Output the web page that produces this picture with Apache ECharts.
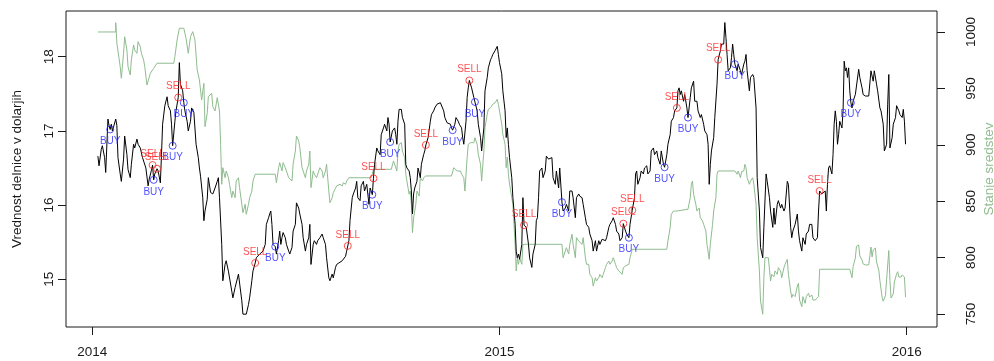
<!DOCTYPE html>
<html>
<head>
<meta charset="utf-8">
<script src="https://cdn.jsdelivr.net/npm/echarts@6/dist/echarts.min.js"></script>
<style>
  html, body { margin: 0; padding: 0; background: #fff; }
  #chart { width: 994px; height: 361px; }
</style>
</head>
<body>
<div id="chart"></div>
<script>
// Day numbers count calendar days from 1 January 2014.
const yearTicks = [0, 365, 730];
const yearLabels = ['2014', '2015', '2016'];
const priceTicks = [15, 16, 17, 18];
const fundTicks = [750, 800, 850, 900, 950, 1000];

// Share price in dollars: [day, price]
const pricePoints = [
  [5,16.66],[6,16.53],[8,16.75],[9,16.80],[11,16.64],[12,16.44],[14,17.16],[15,17.07],[16,17.02],[17,17.09],[18,17.00],[21,17.16],[22,17.07],[23,16.64],[25,16.42],[26,16.32],[28,16.62],[29,16.93],[31,16.68],[32,16.48],[34,16.37],[35,16.55],[37,16.82],[38,16.77],[40,16.89],[41,16.82],[43,16.77],[45,16.64],[48,16.50],[50,16.26],[51,16.35],[53,16.47],[54,16.54],[55,16.34],[56,16.42],[58,16.49],[59,16.46],[61,16.30],[62,16.68],[63,17.09],[65,17.34],[66,17.36],[67,17.46],[68,17.34],[70,17.27],[71,17.09],[72,16.80],[74,17.13],[75,17.27],[77,17.45],[78,17.92],[79,17.63],[81,17.54],[82,17.38],[83,17.27],[85,17.13],[86,17.00],[88,17.13],[89,17.31],[91,17.25],[93,16.82],[95,16.64],[96,16.50],[97,16.39],[99,16.10],[100,15.79],[101,15.92],[103,16.08],[104,16.37],[106,16.17],[108,16.15],[110,16.23],[112,16.32],[113,16.37],[114,16.10],[116,15.47],[117,14.98],[119,15.20],[120,15.25],[122,15.11],[125,14.84],[126,14.75],[128,14.89],[131,15.07],[134,14.71],[135,14.53],[138,14.53],[140,14.66],[141,14.75],[143,14.98],[144,15.11],[146,15.22],[147,15.29],[150,15.34],[153,15.38],[155,15.47],[156,15.74],[158,15.83],[159,15.88],[160,15.92],[161,15.74],[162,15.47],[164,15.44],[165,15.34],[167,15.52],[168,15.65],[169,15.47],[170,15.56],[171,15.63],[173,15.56],[174,15.47],[176,15.38],[177,15.34],[179,15.43],[180,15.65],[182,15.74],[183,16.03],[185,15.96],[186,15.88],[188,15.74],[189,15.56],[191,15.38],[192,15.47],[194,15.56],[195,15.74],[196,15.20],[198,15.47],[199,15.52],[201,15.47],[202,15.52],[204,15.56],[206,15.61],[207,15.56],[209,15.47],[210,15.29],[212,15.02],[213,14.98],[215,15.07],[216,15.02],[218,15.16],[219,15.20],[221,15.22],[224,15.25],[227,15.31],[228,15.38],[229,15.45],[230,15.52],[231,15.79],[233,16.10],[234,16.15],[236,16.23],[237,16.32],[238,16.10],[240,16.06],[241,16.26],[243,16.32],[244,16.19],[246,16.28],[248,16.01],[249,16.23],[250,16.19],[251,16.14],[252,16.36],[253,16.55],[255,16.77],[256,16.73],[258,16.68],[259,16.95],[261,17.04],[262,17.09],[264,17.00],[265,17.18],[266,17.09],[267,16.85],[269,17.00],[271,17.04],[272,16.95],[273,16.82],[274,17.13],[275,17.29],[277,17.29],[278,17.18],[280,17.09],[281,16.55],[282,16.50],[284,16.46],[285,16.37],[286,16.19],[287,15.88],[288,16.15],[289,16.23],[291,16.32],[292,16.50],[294,16.37],[295,16.55],[297,16.68],[298,16.73],[299,16.81],[301,16.91],[303,17.13],[304,17.22],[306,17.27],[307,17.31],[309,17.36],[310,17.38],[312,17.38],[313,17.36],[315,17.27],[316,17.18],[318,17.11],[319,17.13],[321,17.09],[322,17.04],[323,17.01],[325,17.09],[326,17.18],[328,17.13],[329,17.09],[331,17.04],[332,16.91],[333,16.82],[335,17.13],[336,17.45],[337,17.58],[338,17.68],[340,17.58],[342,17.45],[343,17.39],[345,17.27],[346,17.09],[348,16.91],[349,16.73],[351,17.04],[352,17.54],[354,17.72],[355,17.85],[357,17.96],[358,17.99],[359,18.03],[361,18.08],[363,18.14],[364,18.03],[365,17.92],[367,17.77],[368,17.54],[370,17.27],[371,16.91],[372,17.04],[373,16.82],[374,16.64],[376,16.37],[377,16.10],[379,15.74],[380,15.38],[381,15.29],[382,15.34],[383,15.27],[385,15.47],[386,16.10],[387,15.73],[389,15.70],[391,15.47],[392,15.29],[394,15.16],[395,15.34],[397,15.47],[398,15.79],[399,15.83],[400,16.10],[401,16.46],[403,16.50],[404,16.37],[406,16.46],[407,16.66],[409,16.62],[410,16.64],[412,16.64],[413,16.37],[415,16.28],[416,16.46],[418,16.23],[419,16.50],[421,16.04],[422,15.92],[424,15.96],[425,16.01],[427,15.92],[428,16.19],[430,16.19],[431,16.10],[433,15.83],[434,16.10],[436,16.15],[437,16.12],[439,16.10],[440,16.01],[442,15.83],[443,15.74],[445,15.70],[446,15.61],[448,15.52],[449,15.38],[451,15.52],[452,15.38],[454,15.52],[455,15.47],[457,15.54],[458,15.52],[460,15.52],[461,15.56],[463,15.70],[464,15.74],[466,15.79],[467,15.83],[469,15.74],[470,15.65],[472,15.61],[473,15.52],[475,15.56],[476,15.75],[478,15.65],[479,15.61],[481,15.56],[482,15.74],[484,15.93],[486,16.10],[487,16.42],[488,16.46],[489,16.28],[491,16.37],[492,16.46],[494,16.42],[495,16.50],[497,16.53],[498,16.42],[500,16.46],[501,16.73],[503,16.77],[504,16.68],[506,16.73],[507,16.64],[509,16.55],[510,16.73],[512,16.55],[513,16.51],[515,16.68],[516,16.82],[518,16.95],[519,17.13],[521,17.18],[522,17.27],[524,17.31],[525,17.54],[526,17.58],[527,17.49],[528,17.54],[530,17.40],[531,17.49],[533,17.31],[534,17.18],[536,17.45],[537,17.58],[539,17.67],[540,17.40],[542,17.40],[543,17.27],[545,17.18],[546,17.22],[548,17.09],[549,17.00],[551,16.95],[552,16.82],[553,16.28],[554,16.55],[555,16.73],[557,16.91],[558,17.18],[560,17.63],[561,17.96],[563,18.08],[564,18.17],[566,18.17],[567,18.46],[568,18.26],[569,18.03],[570,17.81],[572,17.85],[573,17.99],[574,18.17],[575,18.03],[576,17.90],[578,17.81],[579,17.90],[581,17.81],[582,17.76],[584,17.90],[585,17.94],[586,18.03],[587,17.81],[589,17.54],[590,17.72],[592,17.76],[593,17.72],[595,17.31],[596,16.37],[598,15.92],[599,15.43],[601,15.29],[602,15.70],[604,16.42],[605,16.32],[607,16.10],[608,15.92],[610,15.70],[611,15.96],[612,15.74],[614,16.01],[615,16.06],[617,15.96],[618,16.01],[620,15.92],[621,15.96],[623,16.32],[624,16.28],[626,15.70],[627,15.56],[628,15.65],[630,15.74],[632,15.88],[633,15.65],[634,15.52],[636,15.38],[637,15.56],[639,15.47],[640,15.61],[642,15.65],[643,15.74],[645,15.74],[646,15.56],[648,15.52],[649,15.52],[650,15.56],[651,15.92],[652,16.19],[654,16.15],[655,16.15],[657,16.19],[658,15.92],[659,16.28],[660,16.50],[661,16.53],[663,16.42],[664,16.68],[665,17.09],[666,17.27],[667,17.13],[668,16.82],[669,16.95],[670,17.13],[672,17.04],[673,17.27],[674,17.94],[675,17.81],[676,17.85],[677,17.72],[678,17.85],[679,17.54],[680,17.38],[681,17.31],[682,17.40],[684,17.49],[685,17.49],[687,17.83],[688,17.72],[690,17.58],[691,17.49],[693,17.47],[694,17.45],[696,17.47],[697,17.45],[698,17.81],[700,17.67],[701,17.81],[703,17.63],[704,17.54],[706,17.31],[707,17.27],[709,17.09],[710,16.73],[711,16.77],[712,16.82],[713,17.36],[714,17.76],[715,16.77],[717,16.91],[718,17.09],[720,17.18],[721,17.34],[723,17.27],[724,17.22],[726,17.18],[727,17.29],[728,17.13],[729,16.82]
];

// Value of the holdings: [day, value]
const fundPoints = [
  [5,1000],[21,1000],[21,1008.2],[22,990.0],[25,969.2],[26,959.0],[28,981.1],[29,995.8],[31,984.0],[32,969.2],[34,961.9],[35,975.2],[37,988.5],[38,984.0],[40,981.1],[41,991.4],[43,987.0],[44,981.1],[46,975.2],[47,969.2],[49,953.0],[52,963.4],[55,967.8],[58,972.3],[73,972.3],[74,978.1],[76,992.9],[78,1003.3],[82,1003.3],[84,994.4],[86,981.1],[88,995.8],[90,1000.3],[92,992.9],[94,966.3],[96,957.5],[98,939.7],[100,954.5],[101,916.1],[103,927.9],[104,942.6],[107,945.7],[108,933.8],[110,930.0],[112,941.8],[113,943.3],[114,930.0],[115,900.4],[116,865.0],[117,879.7],[119,870.8],[120,876.8],[122,870.8],[123,865.0],[125,853.1],[126,859.0],[128,853.1],[129,867.9],[131,870.8],[132,862.0],[134,847.3],[135,839.8],[137,847.3],[138,838.4],[140,847.3],[141,853.1],[143,859.0],[144,867.9],[146,873.9],[164,873.9],[165,866.4],[167,879.7],[168,884.2],[170,876.8],[171,884.2],[173,879.7],[174,876.8],[176,870.8],[177,869.4],[179,867.9],[180,882.7],[182,894.5],[183,907.8],[185,903.4],[186,897.5],[188,879.7],[189,876.8],[191,870.8],[192,876.8],[194,882.7],[195,894.5],[196,862.0],[198,876.8],[199,873.9],[201,870.8],[203,876.8],[204,879.7],[206,876.8],[207,870.8],[209,876.8],[210,882.7],[212,859.0],[213,848.7],[215,853.1],[216,857.6],[218,861.5],[219,863.5],[222,865.0],[224,863.5],[225,866.4],[227,865.0],[228,867.9],[230,870.8],[250,870.8],[252,878.3],[268,878.3],[270,885.7],[271,887.2],[273,876.8],[274,894.5],[275,900.4],[277,901.9],[278,894.5],[280,888.6],[281,873.9],[282,867.9],[284,856.2],[285,859.0],[286,847.3],[287,822.1],[288,835.4],[290,847.3],[291,859.0],[293,854.6],[294,870.8],[296,867.9],[297,870.8],[299,872.4],[322,872.4],[324,879.7],[325,881.2],[327,876.8],[330,876.8],[331,873.9],[333,870.8],[334,859.0],[336,888.6],[337,900.4],[339,901.9],[342,901.9],[343,906.3],[345,900.4],[346,891.6],[348,882.7],[349,867.9],[351,894.5],[352,915.2],[354,927.1],[355,931.5],[357,932.9],[358,934.4],[359,935.9],[361,937.3],[363,940.3],[364,935.9],[365,930.0],[367,918.5],[368,909.3],[370,900.4],[371,879.7],[372,889.2],[373,873.9],[374,865.3],[376,853.1],[377,847.3],[379,811.8],[380,788.2],[381,799.9],[382,794.1],[383,799.9],[385,794.1],[386,811.8],[421,811.8],[422,799.9],[424,805.9],[425,808.8],[427,803.2],[428,811.8],[430,820.7],[431,811.8],[433,799.9],[434,817.7],[436,814.7],[437,814.7],[439,811.8],[440,817.7],[442,799.9],[443,794.1],[445,794.1],[446,785.2],[448,782.2],[449,774.8],[451,782.2],[452,779.3],[454,782.2],[455,785.2],[457,782.2],[458,785.2],[460,791.1],[461,794.1],[463,797.0],[464,794.1],[466,797.0],[467,799.9],[469,794.1],[470,791.1],[472,788.2],[473,788.2],[475,785.2],[476,791.1],[478,792.6],[479,792.6],[481,794.1],[482,799.9],[484,807.4],[515,807.4],[516,814.7],[518,826.5],[519,838.4],[521,841.3],[522,842.9],[524,841.3],[525,842.9],[534,842.9],[536,853.1],[537,865.0],[538,867.9],[539,856.2],[541,847.3],[542,841.3],[544,844.0],[545,835.4],[547,832.5],[548,829.5],[550,823.6],[551,811.8],[553,798.5],[554,811.8],[556,829.5],[557,841.3],[559,853.1],[560,873.9],[561,876.8],[576,876.8],[578,873.9],[579,876.8],[581,870.8],[582,876.2],[584,876.8],[585,882.7],[586,879.7],[587,870.8],[589,865.0],[590,867.9],[592,870.8],[593,865.0],[595,847.3],[596,817.7],[598,788.2],[599,761.6],[601,749.8],[602,782.2],[603,799.9],[606,799.9],[608,779.3],[609,785.2],[611,783.1],[612,788.2],[614,785.2],[615,791.1],[617,788.2],[618,782.2],[620,791.1],[621,794.1],[623,798.5],[624,785.2],[626,770.4],[627,764.5],[628,767.5],[630,765.4],[632,774.8],[633,777.2],[634,762.4],[636,756.5],[637,765.4],[639,759.5],[640,765.4],[642,768.4],[643,765.1],[645,766.9],[646,762.4],[648,762.4],[649,764.0],[651,765.4],[652,789.7],[679,789.7],[681,782.2],[682,792.0],[684,799.7],[685,810.1],[687,811.2],[688,801.5],[690,797.9],[691,794.4],[693,793.5],[694,793.0],[696,793.5],[697,801.9],[698,809.4],[699,800.6],[700,806.8],[702,808.5],[703,796.1],[705,789.0],[706,779.7],[708,764.9],[709,761.3],[711,766.4],[712,780.2],[714,806.3],[715,779.7],[716,764.2],[718,767.8],[719,778.4],[721,785.7],[722,787.5],[723,782.8],[725,782.8],[726,784.6],[728,782.8],[729,764.9]
];

// Trades: [day, price]
const buyPoints = [
  [16,17.02],[55,16.34],[72,16.80],[82,17.38],[164,15.44],[251,16.14],[267,16.85],[323,17.01],[343,17.39],[421,16.04],[481,15.56],[513,16.51],[534,17.18],[576,17.90],[680,17.38]
];
const sellPoints = [
  [54,16.54],[58,16.49],[77,17.45],[146,15.22],[229,15.45],[252,16.36],[299,16.81],[338,17.68],[387,15.73],[476,15.75],[484,15.93],[524,17.31],[561,17.96],[652,16.19]
];

const FONT = '"Liberation Sans", Arial, sans-serif';
const GREEN = '#8fbc8f';
const INK = '#1a1a1a';

const chart = echarts.init(document.getElementById('chart'), null, { renderer: 'canvas' });

const tradeSeries = (name, points, color, text, position, distance) => ({
  name,
  type: 'scatter',
  yAxisIndex: 0,
  data: points,
  symbol: 'circle',
  symbolSize: 7,
  z: 5,
  itemStyle: { color: 'rgba(0,0,0,0)', borderColor: color, borderWidth: 1 },
  label: {
    show: true,
    formatter: text,
    position,
    distance,
    color,
    fontSize: 10,
    fontFamily: FONT
  },
  emphasis: { disabled: true }
});

chart.setOption({
  animation: false,
  backgroundColor: '#fff',
  grid: {
    left: 66, right: 57, top: 11, bottom: 34,
    outerBoundsMode: 'none',
    containLabel: false,
    show: true, borderColor: INK, borderWidth: 1, backgroundColor: 'transparent'
  },
  xAxis: {
    type: 'value',
    min: -23.6,
    max: 757.2,
    axisLine: { show: false, onZero: false },
    splitLine: { show: false },
    axisTick: { show: true, inside: false, length: 8, customValues: yearTicks, lineStyle: { color: INK } },
    axisLabel: {
      customValues: yearTicks,
      formatter: v => yearLabels[yearTicks.indexOf(v)],
      color: INK, fontSize: 13.5, fontFamily: FONT, margin: 18
    }
  },
  yAxis: [
    {
      type: 'value',
      position: 'left',
      min: 14.357,
      max: 18.616,
      axisLine: { show: false, onZero: false },
      splitLine: { show: false },
      axisTick: { show: true, inside: false, length: 8, customValues: priceTicks, lineStyle: { color: INK } },
      axisLabel: {
        customValues: priceTicks,
        formatter: v => String(v),
        rotate: 90,
        color: INK, fontSize: 13.5, fontFamily: FONT, margin: 10
      },
      name: 'Vrednost delnice v dolarjih',
      nameLocation: 'middle',
      nameGap: 42,
      nameMoveOverlap: false,
      nameTextStyle: { color: INK, fontSize: 13.5, fontFamily: FONT }
    },
    {
      type: 'value',
      position: 'right',
      min: 738.5,
      max: 1018.6,
      axisLine: { show: false, onZero: false },
      splitLine: { show: false },
      axisTick: { show: true, inside: false, length: 8, customValues: fundTicks, lineStyle: { color: INK } },
      axisLabel: {
        customValues: fundTicks,
        formatter: v => String(v),
        rotate: 90,
        verticalAlign: 'middle',
        color: INK, fontSize: 13.5, fontFamily: FONT, margin: 34
      },
      name: 'Stanje sredstev',
      nameLocation: 'middle',
      nameGap: 45,
      nameRotate: 90,
      nameMoveOverlap: false,
      nameTextStyle: { color: GREEN, fontSize: 13.5, fontFamily: FONT }
    }
  ],
  series: [
    {
      name: 'Stanje sredstev',
      type: 'line',
      yAxisIndex: 1,
      data: fundPoints,
      showSymbol: false,
      clip: true,
      z: 2,
      lineStyle: { color: GREEN, width: 1 },
      emphasis: { disabled: true }
    },
    {
      name: 'Vrednost delnice',
      type: 'line',
      yAxisIndex: 0,
      data: pricePoints,
      showSymbol: false,
      clip: true,
      z: 3,
      lineStyle: { color: '#000', width: 1 },
      emphasis: { disabled: true }
    },
    tradeSeries('BUY', buyPoints, '#2626ff', 'BUY', 'bottom', 3),
    tradeSeries('SELL', sellPoints, '#ff2626', 'SELL', 'top', 2)
  ]
});
</script>
</body>
</html>
